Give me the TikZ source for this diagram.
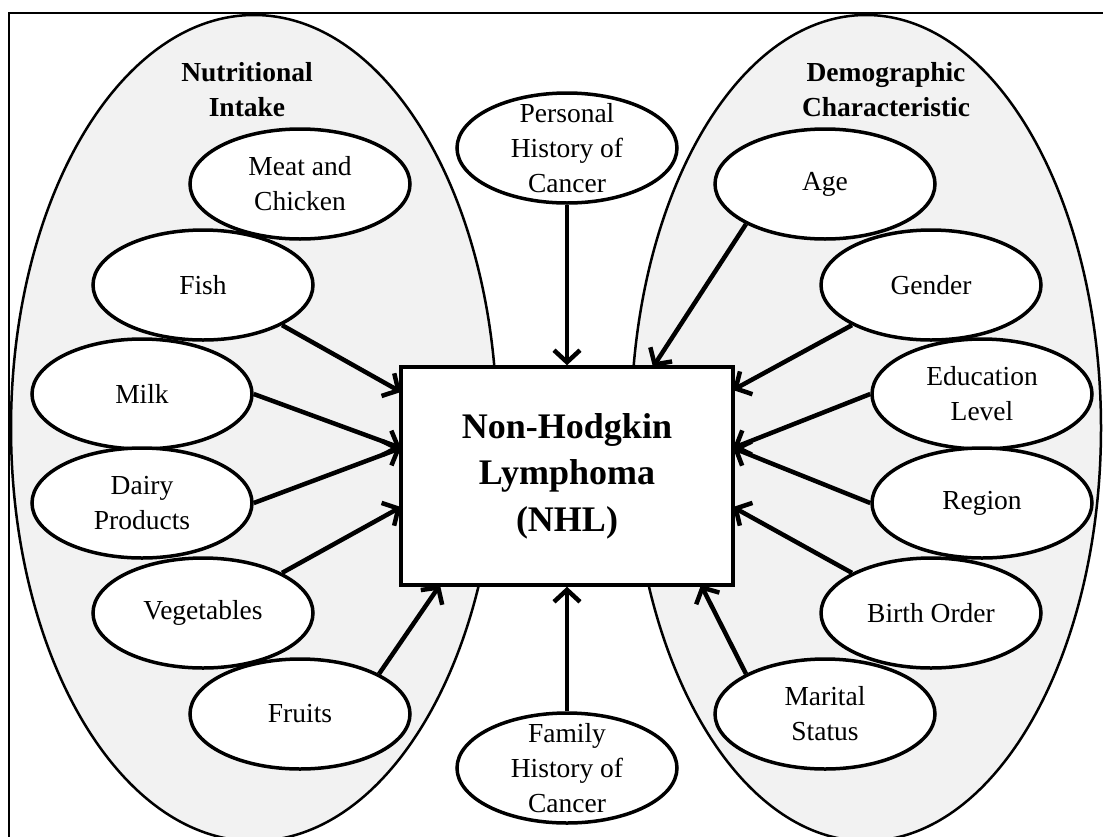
\documentclass[tikz,border=0pt]{standalone}
\usepackage{fontspec}
\setmainfont{Liberation Serif}
\usetikzlibrary{shapes,arrows.meta,positioning,calc}
\definecolor{setgray}{RGB}{242,242,242}

\begin{document}
\begin{tikzpicture}[x=1pt,y=-1pt,
  group/.style={draw,fill=setgray,line width=2.5pt},
  head/.style={align=center,font=\fontsize{27.5}{35}\selectfont\bfseries},
  factor/.style={ellipse,draw,fill=white,line width=3.5pt,minimum width=220pt,minimum height=110pt,
    inner xsep=0pt,inner ysep=-12pt,align=center,font=\fontsize{27.5}{35}\selectfont},
  outcome/.style={rectangle,draw,fill=white,line width=3.5pt,minimum width=332pt,minimum height=218pt,
    align=center,font=\fontsize{36}{46.5}\selectfont\bfseries},
  link/.style={line width=4.5pt,-{Straight Barb[length=12pt,width=26pt]}}]
\useasboundingbox (0,0) rectangle (1103,836);
\draw[line width=2.5pt] (9,13) rectangle (1130,860);

% the two groups
\draw[group] (254,428) ellipse [x radius=243, y radius=413];
\draw[group] (866,428) ellipse [x radius=235, y radius=413];
\node[head] (nutr) at (247,90) {Nutritional\\Intake};
\node[head] (demo) at (886,90) {Demographic\\Characteristic};

% outcome
\node[outcome] (nhl) at (567,476) {Non-Hodgkin\\Lymphoma\\(NHL)};

% nutritional intake
\node[factor] (meat) at (300,184) {Meat and\\Chicken};
\node[factor] (fish) at (203,285) {Fish};
\node[factor] (milk) at (142,394) {Milk};
\node[factor] (dairy) at (142,503) {Dairy\\Products};
\node[factor] (veg) at (203,613) {Vegetables};
\node[factor] (fruit) at (300,714) {Fruits};

% demographic characteristic
\node[factor] (age) at (825,184) {Age};
\node[factor] (gender) at (931,285) {Gender};
\node[factor] (edu) at (982,394) {Education\\Level};
\node[factor] (region) at (982,503) {Region};
\node[factor] (birth) at (931,613) {Birth Order};
\node[factor] (marital) at (825,714) {Marital\\Status};

% history of cancer
\node[factor] (pers) at (567,148) {Personal\\History of\\Cancer};
\node[factor] (fam) at (567,768) {Family\\History of\\Cancer};

% points on the box
\coordinate (l1) at (401,392);
\coordinate (l2) at (401,448);
\coordinate (l3) at (401,507);
\coordinate (b1) at (440,585);
\coordinate (t2) at (653,367);
\coordinate (r1) at (733,390);
\coordinate (r2) at (733,448);
\coordinate (r3) at (733,507);
\coordinate (b2) at (701,585);

\draw[link] (fish.south east) -- (l1);
\draw[link] (milk.east) -- (l2);
\draw[link] (dairy.east) -- (l2);
\draw[link] (veg.north east) -- (l3);
\draw[link] (fruit.north east) -- (b1);
\draw[link] (pers.south) -- (nhl.north);
\draw[link] (fam.north) -- (nhl.south);
\draw[link] (age.south west) -- (t2);
\draw[link] (gender.south west) -- (r1);
\draw[link] (edu.west) -- (r2);
\draw[link] (region.west) -- (r2);
\draw[link] (birth.north west) -- (r3);
\draw[link] (marital.north west) -- (b2);
\end{tikzpicture}
\end{document}
